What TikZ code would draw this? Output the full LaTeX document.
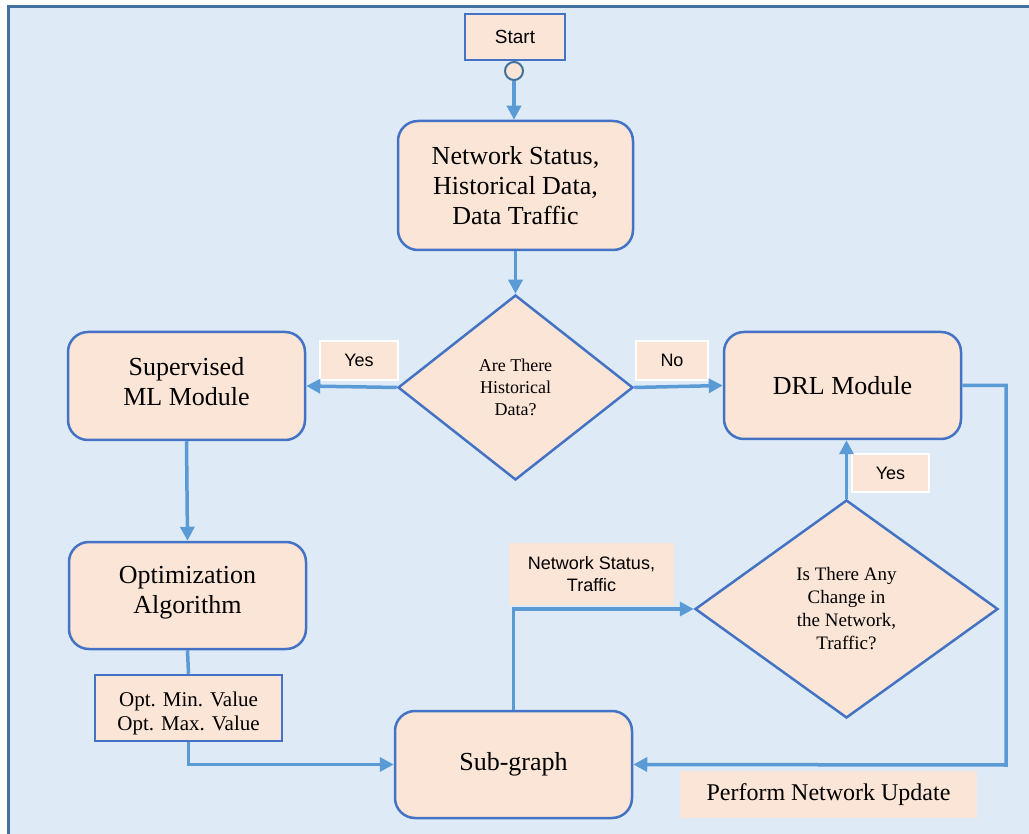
\documentclass[tikz,border=0pt]{standalone}
\usepackage{fontspec}
\setmainfont{Liberation Serif}
\newfontfamily\arialfont{Liberation Sans}
\usetikzlibrary{shapes.geometric,arrows.meta}

\definecolor{bgblue}{HTML}{DEEBF7}
\definecolor{framecol}{HTML}{41719C}
\definecolor{boxline}{HTML}{4472C4}
\definecolor{arrowcol}{HTML}{5B9BD5}
\definecolor{peach}{HTML}{FBE5D6}

\tikzset{
  procbox/.style={draw=boxline, fill=peach, line width=2.5pt, rounded corners=20pt,
    align=center, inner sep=0pt, font=\fontsize{26}{30}\selectfont},
  plainbox/.style={draw=boxline, fill=peach, line width=2.5pt, align=center, inner sep=0pt},
  decision/.style={diamond, draw=boxline, fill=peach, line width=2.5pt, align=center,
    inner sep=0pt},
  tag/.style={fill=peach, draw=white, line width=2pt, inner sep=0pt,
    font=\arialfont\fontsize{18}{22}\selectfont},
  flow/.style={draw=arrowcol, line width=3.5pt, -{Triangle[length=14pt,width=14pt]}},
  plainflow/.style={draw=arrowcol, line width=3.5pt},
}

\begin{document}
\begin{tikzpicture}[x=1pt, y=-1pt]
\useasboundingbox (0,0) rectangle (1029,834);
\clip (0,0) rectangle (1029,834);

% panel background and frame
\fill[white] (0,0) rectangle (1029,834);
\draw[framecol, fill=bgblue, line width=3pt] (8.5,7) rectangle (1060,860);

% start
\node[plainbox, minimum width=100pt, minimum height=46pt,
  font=\arialfont\fontsize{19}{22}\selectfont] (start) at (515,37) {Start};
\node[circle, draw=framecol, fill=peach, line width=2pt, minimum size=18pt, inner sep=0pt]
  (circ) at (514,71) {};

% main blocks
\node[procbox, minimum width=235pt, minimum height=129pt] (status) at (515.5,185.5)
  {Network Status,\\Historical Data,\\Data Traffic};
\node[decision, minimum width=235pt, minimum height=185pt,
  font=\fontsize{18}{22}\selectfont] (dia1) at (515.5,387.5)
  {Are There\\Historical\\Data?};
\node[procbox, minimum width=237pt, minimum height=108pt, text depth=10pt] (sup) at (186.5,386)
  {Supervised\\ML Module};
\node[procbox, minimum width=237pt, minimum height=107pt] (drl) at (842.5,385.5)
  {DRL Module};
\node[procbox, minimum width=237pt, minimum height=107pt, text depth=12pt] (opt) at (187.5,595.5)
  {Optimization\\Algorithm};
\node[plainbox, minimum width=187pt, minimum height=66pt, text height=50pt,
  font=\fontsize{21}{24}\selectfont] (vals) at (188.5,708)
  {Opt. Min. Value\\Opt. Max. Value};
\node[procbox, minimum width=237pt, minimum height=107pt] (sub) at (513.5,764.5)
  {Sub-graph};
\node[decision, minimum width=303pt, minimum height=218pt,
  font=\fontsize{19}{23}\selectfont] (dia2) at (846.5,609)
  {Is There Any\\Change in\\the Network,\\Traffic?};

% labels
\node[tag, minimum width=78pt, minimum height=39pt] (yes1) at (359,360.5) {Yes};
\node[tag, minimum width=72pt, minimum height=39pt] (no1) at (672,360.5) {No};
\node[tag, minimum width=77pt, minimum height=38pt] (yes2) at (890.5,473) {Yes};
\node[tag, draw=none, minimum width=165pt, minimum height=62pt, align=center]
  (nsl) at (591.5,574) {Network Status,\\Traffic};
\node[tag, draw=none, minimum width=297pt, minimum height=47pt,
  font=\fontsize{24}{28}\selectfont] (pnu) at (828.5,794.5) {Perform Network Update};

% connectors
\coordinate (rt) at (1006,765);
\draw[flow] (circ.south) -- (circ.south |- status.north);
\draw[flow] (status.south) -- (dia1.north);
\draw[flow] (dia1.west) -- (sup.east);
\draw[flow] (dia1.east) -- (drl.west);
\draw[flow] (sup.south) -- (opt.north);
\draw[plainflow] (opt.south) -- (vals.north);
\draw[flow] (vals.south) |- (sub.west);
\draw[flow] (sub.north) |- (dia2.west);
\draw[flow] (dia2.north) -- (dia2.north |- drl.south);
\draw[flow] (drl.east) -| (rt) -- (sub.east);
\end{tikzpicture}
\end{document}
